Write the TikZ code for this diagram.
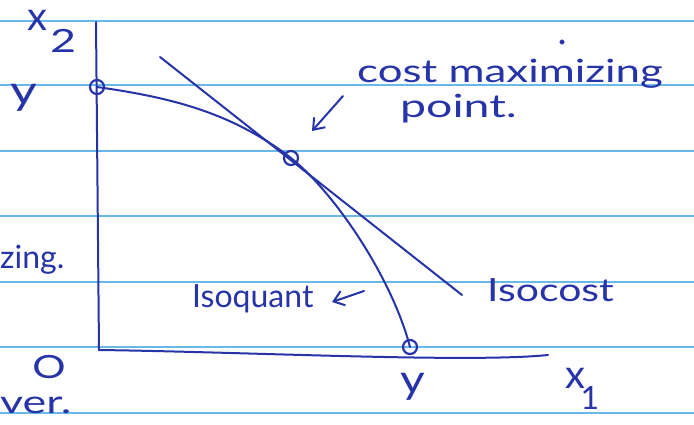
\documentclass[tikz,border=0pt]{standalone}
\usepackage{fontspec}
\setmainfont{Lato}
\definecolor{ink}{RGB}{38,52,168}
\definecolor{rule}{RGB}{105,185,232}
\usetikzlibrary{arrows.meta}
\tikzset{
  ink/.style={draw=ink, line width=2pt, line cap=round, line join=round},
  ruleline/.style={draw=rule, line width=1.8pt},
  ptmark/.style={circle, draw=ink, line width=2.2pt, minimum size=14pt, inner sep=0pt},
  hw/.style={text=ink, inner sep=0pt, font=\fontsize{32}{34}\selectfont},
  hwbig/.style={text=ink, inner sep=0pt, font=\fontsize{40}{42}\selectfont},
  arr/.style={ink, -{Straight Barb[length=10pt,width=15pt,line width=2pt]}},
}
\begin{document}
\begin{tikzpicture}[x=1pt,y=-1pt]
\useasboundingbox[fill=white] (0,0) rectangle (694,424);
% ruled paper
\foreach \yy in {21,85,151,216,282,347,413}
  \draw[ruleline] (0,\yy) -- (694,\yy);
% axes
\coordinate (top) at (96,22);
\coordinate (O) at (99,350);
\coordinate (xend) at (548,355);
\draw[ink] (top) -- (O);
\draw[ink] (O) .. controls (250,352) and (470,363) .. (xend);
% points
\node[ptmark] (A) at (97,87) {};
\node[ptmark] (T) at (291,158) {};
\node[ptmark] (B) at (410,347) {};
% isocost line
\coordinate (c1) at (160,57);
\coordinate (c2) at (462,295);
\draw[ink] (c1) -- (c2);
% isoquant
\draw[ink] (A.center) .. controls (167,97) and (230,111) .. (T.center)
  .. controls (335,193) and (392,278) .. (B.center);
% labels
\node[hwbig, anchor=center] (x2) at (37,20) {x};
\node[hw, anchor=center] (x2s) at (63,41) {\scalebox{1.4}[1]{2}};
\node[hwbig, anchor=base] (ylab) at (24,104) {\scalebox{1.3}[1]{y}};
\node[hw, anchor=base west] (cm) at (357,82) {\scalebox{1.37}[1]{cost maximizing}};
\node[hw, anchor=base west] (pt) at (400,117) {\scalebox{1.45}[1]{point.}};
\node[hw, anchor=base west] (zing) at (0,268) {zing.};
\node[hw, anchor=center] (olab) at (49,367) {\scalebox{1.3}[1]{O}};
\node[hw, anchor=base west] (ver) at (0,413) {\scalebox{1.4}[1]{ver.}};
\node[hw, anchor=base west] (isoq) at (192,307) {Isoquant};
\node[hw, anchor=base west] (isoc) at (487,301) {\scalebox{1.28}[1]{Isocost}};
\node[hwbig, anchor=base] (ybot) at (413,393) {\scalebox{1.2}[1]{y}};
\node[hwbig, anchor=center] (x1) at (575,378) {x};
\node[hw, anchor=center] (x1s) at (590,398) {1};
% arrows
\coordinate (a1s) at (343,96);
\coordinate (a1e) at (312,131);
\draw[arr] (a1s) -- (a1e);
\coordinate (a2s) at (364,291);
\coordinate (a2e) at (332,302);
\draw[arr] (a2s) -- (a2e);
% stray dot
\fill[ink] (562,42) circle (1.6pt);
\end{tikzpicture}
\end{document}
